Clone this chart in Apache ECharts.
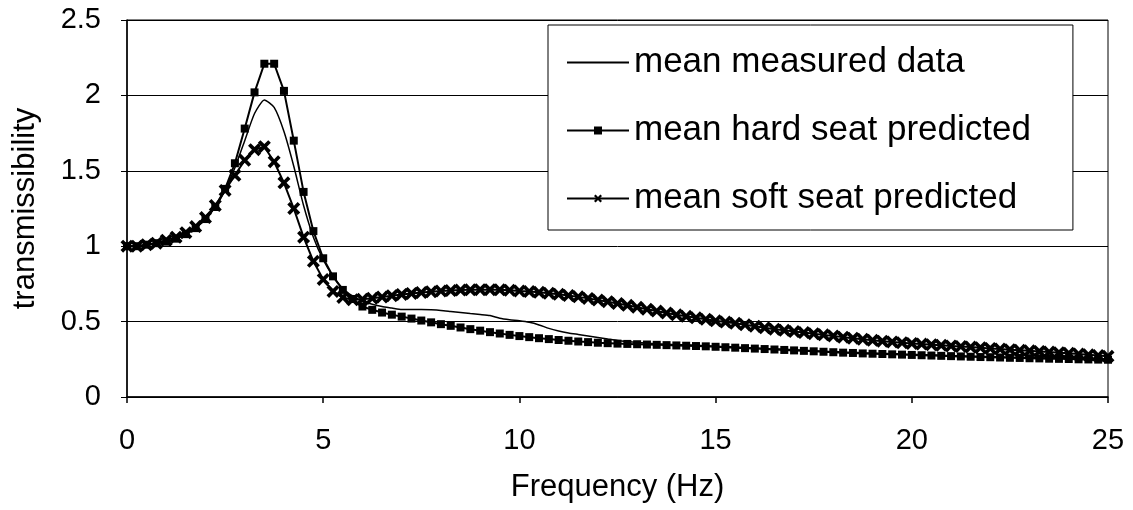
<!DOCTYPE html>
<html><head><meta charset="utf-8">
<script src="https://cdn.jsdelivr.net/npm/echarts@6/dist/echarts.min.js"></script>
<style>html,body{margin:0;padding:0;background:#fff}#c{width:1133px;height:510px}</style>
</head><body><div id="c"></div>
<script>
const freq = [0,0.25,0.5,0.75,1,1.25,1.5,1.75,2,2.25,2.5,2.75,3,3.25,3.5,3.75,4,4.25,4.5,4.75,
5,5.25,5.5,5.75,6,6.25,6.5,6.75,7,7.25,7.5,7.75,8,8.25,8.5,8.75,9,9.25,9.5,9.75,
10,10.25,10.5,10.75,11,11.25,11.5,11.75,12,12.25,12.5,12.75,13,13.25,13.5,13.75,14,14.25,14.5,14.75,
15,15.25,15.5,15.75,16,16.25,16.5,16.75,17,17.25,17.5,17.75,18,18.25,18.5,18.75,19,19.25,19.5,19.75,
20,20.25,20.5,20.75,21,21.25,21.5,21.75,22,22.25,22.5,22.75,23,23.25,23.5,23.75,24,24.25,24.5,24.75,25];

const measured = [1.00,1.00,1.01,1.02,1.03,1.05,1.08,1.12,1.18,1.26,1.37,1.52,1.70,1.88,1.97,1.92,1.76,1.53,1.27,1.06,
0.91,0.80,0.72,0.67,0.635,0.615,0.60,0.59,0.58,0.58,0.58,0.578,0.574,0.567,0.56,0.553,0.547,0.54,0.522,0.512,
0.505,0.495,0.478,0.455,0.438,0.425,0.415,0.405,0.395,0.385,0.375,0.368,0.362,0.357,0.353,0.35,0.347,0.346,0.343,0.34,
0.337,0.334,0.331,0.328,0.325,0.322,0.319,0.316,0.313,0.31,0.307,0.304,0.301,0.298,0.296,0.293,0.291,0.289,0.287,0.285,
0.283,0.281,0.279,0.277,0.275,0.273,0.271,0.269,0.268,0.266,0.264,0.263,0.261,0.26,0.258,0.257,0.256,0.254,0.253,0.252,0.251];

const hardSeat = [1.00,1.00,1.01,1.02,1.03,1.05,1.08,1.12,1.18,1.26,1.38,1.55,1.78,2.02,2.21,2.21,2.03,1.70,1.36,1.10,
0.92,0.80,0.71,0.65,0.60,0.578,0.56,0.546,0.533,0.52,0.507,0.495,0.483,0.472,0.461,0.45,0.44,0.43,0.421,0.412,
0.404,0.397,0.39,0.384,0.378,0.373,0.368,0.364,0.36,0.357,0.354,0.352,0.35,0.348,0.346,0.344,0.342,0.34,0.338,0.336,
0.333,0.33,0.327,0.324,0.321,0.318,0.315,0.312,0.309,0.306,0.303,0.30,0.297,0.294,0.292,0.289,0.287,0.285,0.283,0.281,
0.279,0.277,0.275,0.273,0.271,0.269,0.267,0.265,0.264,0.262,0.26,0.259,0.257,0.256,0.254,0.253,0.252,0.25,0.249,0.248,0.247];

const softSeat = [1.00,1.00,1.01,1.02,1.04,1.06,1.09,1.13,1.19,1.27,1.37,1.47,1.57,1.64,1.66,1.56,1.42,1.25,1.06,0.90,
0.78,0.70,0.66,0.645,0.648,0.655,0.663,0.672,0.68,0.687,0.693,0.698,0.703,0.706,0.709,0.711,0.712,0.712,0.711,0.708,
0.703,0.699,0.694,0.688,0.681,0.673,0.664,0.654,0.643,0.632,0.62,0.608,0.595,0.582,0.57,0.557,0.545,0.535,0.525,0.515,
0.505,0.497,0.489,0.479,0.469,0.459,0.45,0.442,0.434,0.427,0.42,0.412,0.405,0.397,0.39,0.383,0.376,0.37,0.365,0.36,
0.355,0.351,0.347,0.343,0.339,0.335,0.331,0.327,0.322,0.318,0.314,0.31,0.306,0.302,0.298,0.294,0.29,0.285,0.28,0.275,0.27];

const seriesNames = ['mean measured data','mean hard seat predicted','mean soft seat predicted'];

const FONT = 'Liberation Sans, Arial, sans-serif';
const xSymbol = 'path://M2,0 L5,3 L8,0 L10,2 L7,5 L10,8 L8,10 L5,7 L2,10 L0,8 L3,5 L0,2 Z';

function pairs(vals){ return freq.map((f,i)=>[f, vals[i]]); }

const chart = echarts.init(document.getElementById('c'), null, {renderer:'canvas'});
chart.setOption({
  animation:false,
  backgroundColor:'#fff',
  textStyle:{fontFamily:FONT, color:'#000'},
  grid:{left:127, right:25, top:20, bottom:113, show:true, borderColor:'#000', borderWidth:1, backgroundColor:'transparent', outerBoundsMode:'none'},
  legend:{
    orient:'vertical', left:548, top:25,
    padding:[20,42,14,18], itemGap:33, itemWidth:62, itemHeight:10,
    borderColor:'#000', borderWidth:1, backgroundColor:'#fff',
    textStyle:{fontSize:35, color:'#000', fontFamily:FONT},
    data:[
      {name:seriesNames[0], itemStyle:{color:'transparent', borderColor:'transparent', borderWidth:0, opacity:0}},
      {name:seriesNames[1]},
      {name:seriesNames[2]}
    ]
  },
  xAxis:{
    type:'value', min:0, max:25, interval:5,
    axisLine:{show:true, lineStyle:{color:'#000', width:1.5}},
    axisTick:{show:true, length:6, lineStyle:{color:'#000', width:1.5}},
    axisLabel:{color:'#000', fontSize:29, margin:29, fontFamily:FONT},
    splitLine:{show:false},
    name:'Frequency (Hz)', nameLocation:'middle', nameGap:75,
    nameTextStyle:{fontSize:31, color:'#000', fontFamily:FONT}
  },
  yAxis:{
    type:'value', min:0, max:2.5, interval:0.5,
    axisLine:{show:true, lineStyle:{color:'#000', width:1.5}},
    axisTick:{show:true, length:6, lineStyle:{color:'#000', width:1}},
    axisLabel:{color:'#000', fontSize:29, margin:26, fontFamily:FONT},
    splitLine:{show:true, lineStyle:{color:'#000', width:1}},
    name:'transmissibility', nameLocation:'middle', nameRotate:90, nameGap:86,
    nameTextStyle:{fontSize:31, color:'#000', fontFamily:FONT}
  },
  series:[
    {name:seriesNames[0], type:'line', data:pairs(measured), symbol:'none', smooth:0.2,
     lineStyle:{color:'#000', width:1.5}, itemStyle:{color:'#000'}, z:3},
    {name:seriesNames[1], type:'line', data:pairs(hardSeat), symbol:'rect', symbolSize:8,
     lineStyle:{color:'#000', width:2}, itemStyle:{color:'#000'}, z:4},
    {name:seriesNames[2], type:'line', data:pairs(softSeat), symbol:xSymbol, symbolSize:13,
     lineStyle:{color:'#000', width:2}, itemStyle:{color:'#000'}, z:5}
  ]
});
</script></body></html>
